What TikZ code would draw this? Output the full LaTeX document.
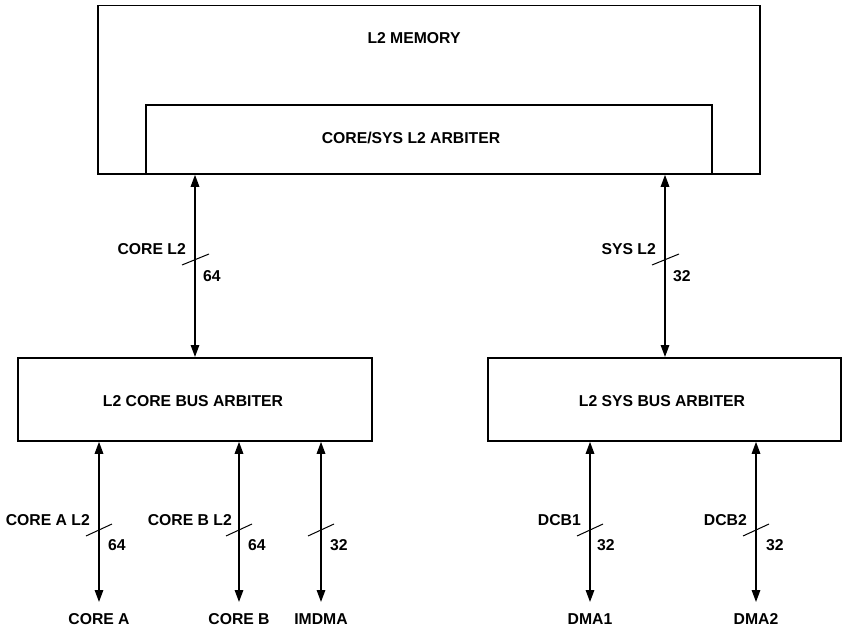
\documentclass[tikz,border=0pt]{standalone}
\usepackage{fontspec}
\setmainfont{Liberation Sans}
\usetikzlibrary{arrows.meta}
\tikzset{
  lbl/.style={font=\fontsize{15.8}{18}\selectfont\bfseries, inner sep=0pt, text height=11.3bp, text depth=0pt},
  blk/.style={draw, line width=1.8bp, fill=white, anchor=north west, inner sep=0pt},
  bus/.style={line width=1.5bp, {Triangle[length=12bp,width=8.5bp]}-{Triangle[length=12bp,width=8.5bp]}},
  slash/.style={line width=1bp}
}
\begin{document}
\begin{tikzpicture}[x=1bp,y=-1bp]
\useasboundingbox (0,0) rectangle (842,630);
% top memory
\node[blk, line width=1.5bp, minimum width=662bp, minimum height=168bp] (mem) at (97,5) {};
\node[lbl] (memtxt) at (414,37.5) {L2 MEMORY};
\node[blk, minimum width=566bp, minimum height=69bp] (arb) at (145,104) {};
\node[lbl] (arbtxt) at (411,137.5) {CORE/SYS L2 ARBITER};
% bus arbiters
\node[blk, minimum width=354bp, minimum height=83bp] (corebus) at (17,357) {};
\node[lbl] (corebustxt) at (193,401) {L2 CORE BUS ARBITER};
\node[blk, minimum width=353bp, minimum height=83bp] (sysbus) at (487,357) {};
\node[lbl] (sysbustxt) at (662,401) {L2 SYS BUS ARBITER};
% top connectors
\coordinate (tl) at (195,357);
\coordinate (tr) at (665,357);
\draw[bus] (tl |- arb.south) -- (tl);
\draw[bus] (tr |- arb.south) -- (tr);
\draw[slash] (182,265) -- (209,254);
\draw[slash] (652,265) -- (679,254);
\node[lbl, anchor=east] (corel2) at (186,249) {CORE L2};
\node[lbl, anchor=west] (w64a) at (203,276) {64};
\node[lbl, anchor=east] (sysl2) at (656,249) {SYS L2};
\node[lbl, anchor=west] (w32a) at (673,276) {32};
% bottom endpoint labels
\node[lbl, anchor=north] (coreA) at (99,613) {CORE A};
\node[lbl, anchor=north] (coreB) at (239,613) {CORE B};
\node[lbl, anchor=north] (imdma) at (321,613) {IMDMA};
\node[lbl, anchor=north] (dma1) at (590,613) {DMA1};
\node[lbl, anchor=north] (dma2) at (756,613) {DMA2};
% bottom connectors
\foreach \n in {coreA,coreB,imdma}{
  \draw[bus] (\n.north |- corebus.south) -- ([yshift=11bp]\n.north);
}
\foreach \n in {dma1,dma2}{
  \draw[bus] (\n.north |- sysbus.south) -- ([yshift=11bp]\n.north);
}
% slashes
\foreach \x in {99,239,321,590,756}{
  \draw[slash] (\x-13,536) -- (\x+13,524);
}
% bus labels
\node[lbl, anchor=east] (cal2) at (90,520) {CORE A L2};
\node[lbl, anchor=west] (w64b) at (108,545) {64};
\node[lbl, anchor=east] (cbl2) at (232,520) {CORE B L2};
\node[lbl, anchor=west] (w64c) at (248,545) {64};
\node[lbl, anchor=west] (w32b) at (330,545) {32};
\node[lbl, anchor=east] (dcb1) at (581,520) {DCB1};
\node[lbl, anchor=west] (w32c) at (597,545) {32};
\node[lbl, anchor=east] (dcb2) at (747,520) {DCB2};
\node[lbl, anchor=west] (w32d) at (766,545) {32};
\end{tikzpicture}
\end{document}
